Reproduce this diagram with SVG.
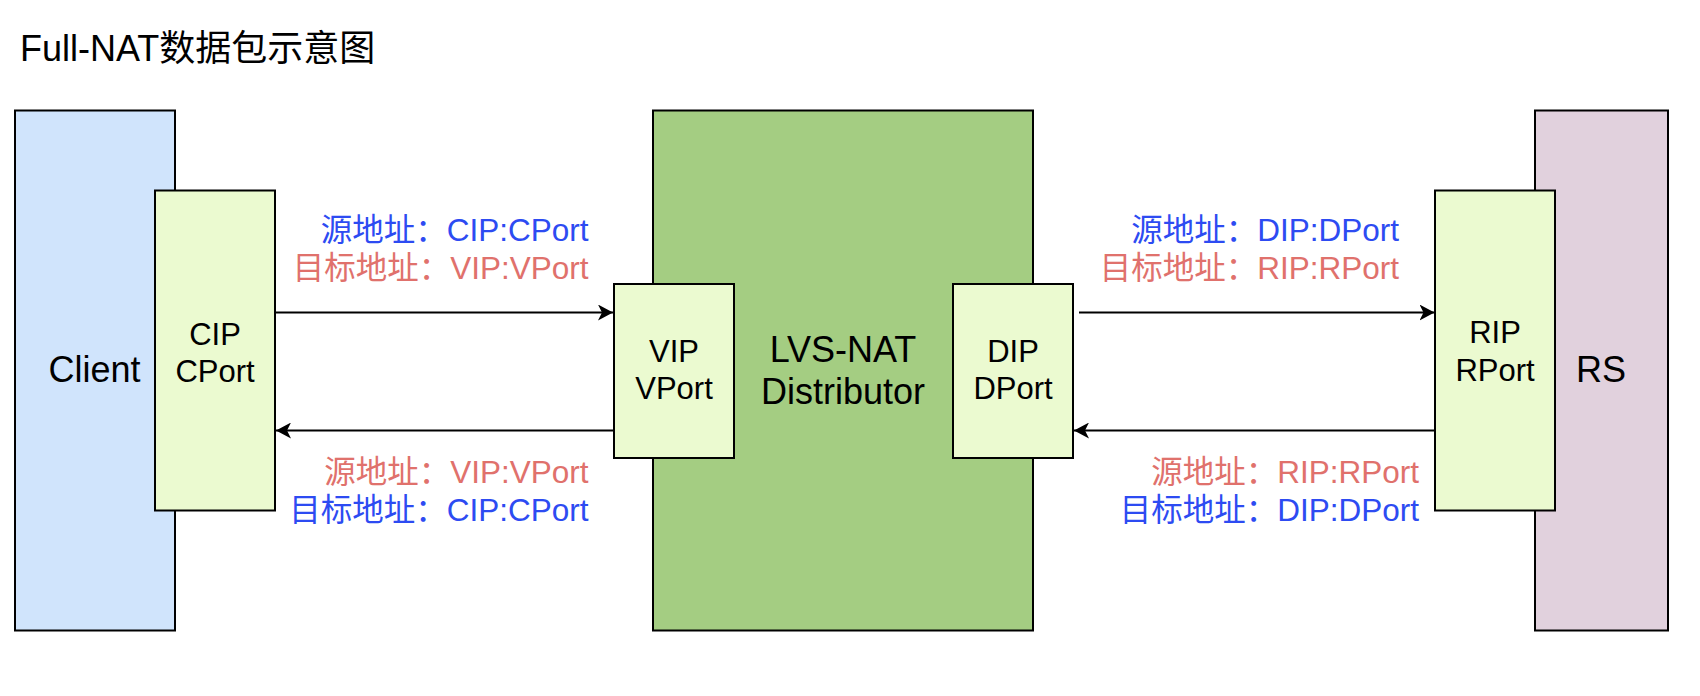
<svg xmlns="http://www.w3.org/2000/svg" width="1700" height="696" viewBox="0 0 1700 696">
<style>
text{font-family:"Liberation Sans","Noto Sans CJK SC",sans-serif;}
.box{stroke:#000;stroke-width:2;}
.client{fill:#d0e4fc;}
.lvs{fill:#a4cd82;}
.port{fill:#ebfad0;}
.rs{fill:#e1d1dd;}
.big{font-size:36px;text-anchor:middle;fill:#000;}
.pt{font-size:31px;text-anchor:middle;fill:#000;}
.lbl{font-size:31.5px;text-anchor:end;}
.blue{fill:#2d4bf2;}
.red{fill:#e0716c;}
.conn{stroke:#000;stroke-width:2;fill:none;marker-end:url(#arr);}
</style>
<defs>
<marker id="arr" markerUnits="userSpaceOnUse" viewBox="0 0 16 16" markerWidth="16" markerHeight="16" refX="15" refY="8" orient="auto">
<path d="M15,8 L0,0 L4,8 L0,16 Z" fill="#000"/>
</marker>
</defs>
<rect width="1700" height="696" fill="#fff"/>
<text id="title" x="20" y="61" style="font-size:36px" fill="#000">Full-NAT数据包示意图</text>
<g id="client">
<rect class="box client" x="15" y="110.5" width="160" height="520"/>
<text class="big" x="94.5" y="382">Client</text>
</g>
<g id="cip">
<rect class="box port" x="155" y="190.5" width="120" height="320"/>
<text class="pt" x="215" y="345">CIP</text>
<text class="pt" x="215" y="382">CPort</text>
</g>
<g id="lvs">
<rect class="box lvs" x="653" y="110.5" width="380" height="520"/>
<text class="big" x="843" y="361.5">LVS-NAT</text>
<text class="big" x="843" y="404">Distributor</text>
</g>
<g id="vip">
<rect class="box port" x="614" y="284" width="120" height="174"/>
<text class="pt" x="674" y="362">VIP</text>
<text class="pt" x="674" y="399">VPort</text>
</g>
<g id="dip">
<rect class="box port" x="953" y="284" width="120" height="174"/>
<text class="pt" x="1013" y="362">DIP</text>
<text class="pt" x="1013" y="399">DPort</text>
</g>
<g id="rs">
<rect class="box rs" x="1535" y="110.5" width="133" height="520"/>
<text class="big" x="1601" y="382">RS</text>
</g>
<g id="rip">
<rect class="box port" x="1435" y="190.5" width="120" height="320"/>
<text class="pt" x="1495" y="343">RIP</text>
<text class="pt" x="1495" y="381">RPort</text>
</g>
<g id="connectors">
<line class="conn" x1="275" y1="312.5" x2="613" y2="312.5"/>
<line class="conn" x1="614" y1="430.5" x2="276" y2="430.5"/>
<line class="conn" x1="1079" y1="312.5" x2="1434.5" y2="312.5"/>
<line class="conn" x1="1435" y1="430.5" x2="1074" y2="430.5"/>
</g>
<g id="labels">
<text class="lbl blue" x="588.5" y="241">源地址：CIP:CPort</text>
<text class="lbl red" x="588.5" y="279">目标地址：VIP:VPort</text>
<text class="lbl red" x="588.5" y="483">源地址：VIP:VPort</text>
<text class="lbl blue" x="588.5" y="521">目标地址：CIP:CPort</text>
<text class="lbl blue" x="1399" y="241">源地址：DIP:DPort</text>
<text class="lbl red" x="1399" y="279">目标地址：RIP:RPort</text>
<text class="lbl red" x="1419" y="483">源地址：RIP:RPort</text>
<text class="lbl blue" x="1419" y="521">目标地址：DIP:DPort</text>
</g>
</svg>
